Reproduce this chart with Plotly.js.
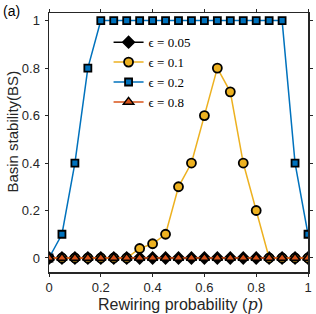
<!DOCTYPE html>
<html><head><meta charset="utf-8">
<script src="https://cdn.plot.ly/plotly-3.0.1.min.js"></script>
<style>html,body{margin:0;padding:0;background:#fff}</style>
</head><body><div id="chart" style="width:316px;height:314px"></div>
<script>
const p = [0,0.05,0.1,0.15,0.2,0.25,0.3,0.35,0.4,0.45,0.5,0.55,0.6,0.65,0.7,0.75,0.8,0.85,0.9,0.95,1];
const bs005 = [0,0,0,0,0,0,0,0,0,0,0,0,0,0,0,0,0,0,0,0,0];
const bs01  = [0,0,0,0,0,0,0,0.04,0.06,0.1,0.3,0.4,0.6,0.8,0.7,0.4,0.2,0,0,0,0];
const bs02  = [0,0.1,0.4,0.8,1,1,1,1,1,1,1,1,1,1,1,1,1,1,1,0.4,0.1];
const bs08  = [0,0,0,0,0,0,0,0,0,0,0,0,0,0,0,0,0,0,0,0,0];
const names = ['ϵ = 0.05','ϵ = 0.1','ϵ = 0.2','ϵ = 0.8'];
const tickVals = [0,0.2,0.4,0.6,0.8,1];
const tickText = ['0','0.2','0.4','0.6','0.8','1'];
const xTitle = 'Rewiring probability (<span style="font-family:DejaVu Serif;font-style:italic">p</span>)';
const yTitle = 'Basin stability(BS)';

const axisCol = '#262626';
const sans = 'Liberation Sans, Arial, sans-serif';
const traces = [
  {x:p, y:bs005, name:names[0], mode:'lines+markers', line:{color:'#000000',width:1.5},
   marker:{symbol:'diamond',size:9,color:'#000000',line:{color:'#000000',width:1.5}}},
  {x:p, y:bs01, name:names[1], mode:'lines+markers', line:{color:'#EDB120',width:1.5},
   marker:{symbol:'circle',size:9,color:'#EDB120',line:{color:'#000000',width:1.8}}},
  {x:p, y:bs02, name:names[2], mode:'lines+markers', line:{color:'#0072BD',width:1.5},
   marker:{symbol:'square',size:7,color:'#0072BD',line:{color:'#000000',width:1.8}}},
  {x:p, y:bs08, name:names[3], mode:'lines+markers', line:{color:'#D95319',width:1.5},
   marker:{symbol:'triangle-up',size:9,color:'#D95319',line:{color:'#000000',width:1.5}}}
];
const axBase = {showgrid:false, zeroline:false, showline:true, mirror:'ticks', linecolor:axisCol, linewidth:1.5,
  ticks:'outside', ticklen:3, tickwidth:1, tickcolor:axisCol, tickfont:{family:sans, size:13, color:axisCol}};
const layout = {
  width:316, height:314,
  margin:{l:49, r:8, t:13, b:42},
  paper_bgcolor:'#fff', plot_bgcolor:'#fff',
  showlegend:true,
  legend:{x:0.23, y:0.945, xanchor:'left', yanchor:'top', bgcolor:'rgba(0,0,0,0)', borderwidth:0,
    font:{family:'Liberation Serif, DejaVu Serif, serif', size:13, color:'#000'}, itemwidth:30, tracegroupgap:0},
  xaxis:Object.assign({}, axBase, {range:[0,1], tickvals:tickVals, ticktext:tickText}),
  yaxis:Object.assign({}, axBase, {range:[-0.059,1.032], tickvals:tickVals, ticktext:tickText, ticklabelstandoff:2}),
  annotations:[
    {text:'(a)', xref:'paper', yref:'paper', x:-0.185, y:1.008, xanchor:'left', yanchor:'middle', showarrow:false,
     font:{family:sans, size:14, color:'#000'}},
    {text:xTitle, xref:'paper', yref:'paper', x:0.508, y:-0.124, xanchor:'center', yanchor:'middle', showarrow:false,
     font:{family:sans, size:16, color:axisCol}},
    {text:yTitle, xref:'paper', yref:'paper', x:-0.141, y:0.544, xanchor:'center', yanchor:'middle', showarrow:false,
     textangle:-90, font:{family:sans, size:15, color:axisCol}}
  ]
};
Plotly.newPlot('chart', traces, layout, {displayModeBar:false, staticPlot:true});
</script></body></html>
